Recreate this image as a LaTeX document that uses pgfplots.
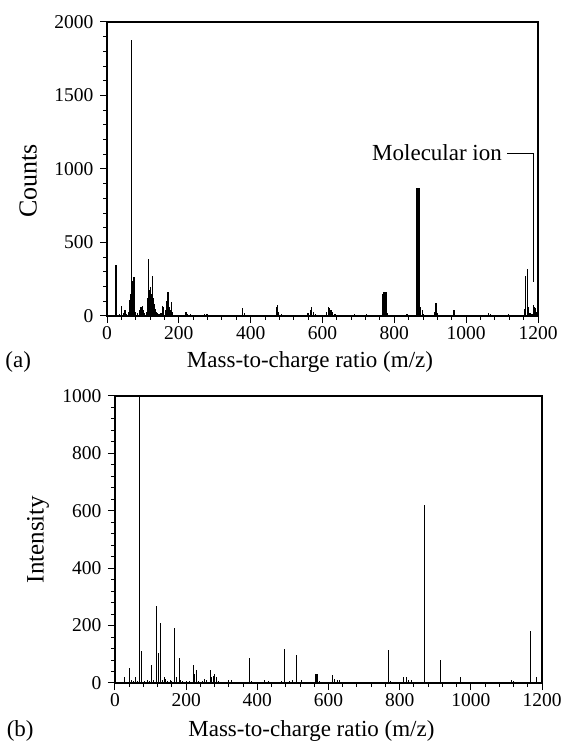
\documentclass[border=0pt]{standalone}
\usepackage{pgfplots}
\pgfplotsset{compat=1.18}
\usepackage{fontspec}
\setmainfont{Liberation Serif}
\begin{document}
\begin{tikzpicture}
\path[use as bounding box] (0pt,0pt) rectangle (560pt,741pt);
\pgfplotsset{
  specstyle/.style={
    scale only axis,
    axis line style={line width=1.1pt},
    tick style={line width=1.0pt,black},
    tick align=outside,
    xtick pos=bottom, ytick pos=left,
    major tick length=7pt, minor tick length=4pt,
    xmin=0, xmax=1200,
    xtick={0,200,...,1200},
    minor x tick num=4,
    ymin=0,
    tick label style={font=\fontsize{19.5}{21}\selectfont},
    yticklabel style={xshift=-3pt},
    xlabel style={font=\fontsize{23}{25}\selectfont},
    /pgf/number format/assume math mode=true,
    /pgf/number format/1000 sep={},
    clip mode=individual,
  }
}
% ---------------- (a) ----------------
\begin{axis}[specstyle,
  at={(107pt,425pt)}, anchor=south west,
  width=431pt, height=294pt,
  ymax=2000, ytick={0,500,...,2000}, minor y tick num=4,
  xlabel={Mass-to-charge ratio (m/z)},
  ylabel={Counts},
  xlabel style={at={(axis description cs:0.471,-0.158)},anchor=center},
  ylabel style={at={(axis description cs:-0.183,0.46)},anchor=center,font=\fontsize{26}{28}\selectfont},
]
\addplot[ycomb, black, line width=1.3pt, mark=none] coordinates {
(10,5) (18,8) (25,350) (30,10) (35,15) (41,65) (46,20) (50,40) (55,15) (60,30) (62,60) (64,110) (66,150) (68,200) (69,1880) (71,240) (73,265) (75,265) (77,120) (80,30) (85,20) (90,40) (95,60) (98,65) (100,40) (105,20) (110,30) (113,120) (116,390) (118,180) (120,160) (122,200) (124,150) (127,275) (129,120) (131,80) (134,50) (137,30) (140,20) (145,15) (150,20) (155,70) (158,60) (162,40) (166,100) (170,165) (173,60) (176,40) (179,95) (183,30) (190,10) (200,8) (210,10) (220,25) (225,15) (232,15) (240,8) (260,5) (272,15) (278,15) (300,5) (330,5) (350,8) (378,55) (382,20) (400,5) (430,5) (460,5) (471,60) (475,75) (478,30) (486,12) (500,5) (520,10) (540,10) (560,20) (566,40) (570,60) (574,30) (580,15) (600,10) (612,30) (616,60) (620,55) (624,40) (628,25) (635,15) (650,10) (670,10) (690,12) (700,5) (723,12) (740,5) (768,150) (771,160) (774,165) (777,160) (780,20) (800,5) (820,10) (835,12) (845,8) (855,10) (862,870) (864,870) (866,870) (868,870) (870,870) (873,60) (878,40) (882,15) (900,5) (912,30) (916,90) (920,20) (940,5) (966,40) (990,5) (1015,10) (1040,5) (1063,20) (1067,15) (1090,5) (1117,12) (1140,5) (1163,50) (1166,270) (1170,320) (1173,60) (1178,20) (1183,15) (1187,75) (1190,60) (1193,55) (1196,30)
};
\draw[line width=1.1pt] (axis cs:1114,1108) -| (axis cs:1187,231);
\node[anchor=east, font=\fontsize{23}{25}\selectfont, inner sep=0pt] at (axis cs:1100,1108) {Molecular ion};
\node[font=\fontsize{23}{25}\selectfont] at (axis description cs:-0.206,-0.158) {(a)};
\end{axis}
% ---------------- (b) ----------------
\begin{axis}[specstyle,
  at={(115pt,58pt)}, anchor=south west,
  width=427pt, height=287pt,
  ymax=1000, ytick={0,200,...,1000}, minor y tick num=4,
  xlabel={Mass-to-charge ratio (m/z)},
  ylabel={Intensity},
  xlabel style={at={(axis description cs:0.46,-0.166)},anchor=center},
  ylabel style={at={(axis description cs:-0.180,0.5)},anchor=center,font=\fontsize{25}{27}\selectfont},
]
\addplot[ycomb, black, line width=1.0pt, mark=none] coordinates {
(26,21) (35,5) (42,53) (47,12) (52,8) (59,20) (64,8) (68.5,1000) (75,112) (82,8) (90,12) (96,8) (102,61) (108,10) (116,267) (122.6,106) (128,208) (133,10) (138,20) (143,15) (148,8) (155,10) (160,8) (167,190) (172,20) (180,88) (185,10) (190,8) (200,6) (210,8) (220,61) (224,30) (229.5,46) (236,8) (245,6) (251,15) (258,12) (267,46) (272,22) (276,25) (280,30) (284,20) (290,8) (300,5) (312,5) (320,12) (328,12) (335,5) (350,4) (365,5) (377,88) (385,6) (400,4) (420,12) (430,6) (450,4) (468,6) (475,120) (480,5) (490,8) (500,10) (510,97) (525,10) (540,5) (555,4) (563,33) (566,33) (569,33) (575,8) (590,5) (600,5) (612,27) (618,14) (625,12) (632,10) (645,5) (660,5) (668,5) (690,3) (710,5) (730,3) (770,114) (775,8) (790,5) (812,20) (818,20) (826,12) (832,12) (840,5) (868.5,619) (890,4) (916,79) (940,4) (970,20) (1000,4) (1020,5) (1050,3) (1070,5) (1090,3) (1115,12) (1120,6) (1140,3) (1168,180) (1185,20) (1195,5)
};
\node[font=\fontsize{23}{25}\selectfont] at (axis description cs:-0.222,-0.166) {(b)};
\end{axis}
\end{tikzpicture}
\end{document}
